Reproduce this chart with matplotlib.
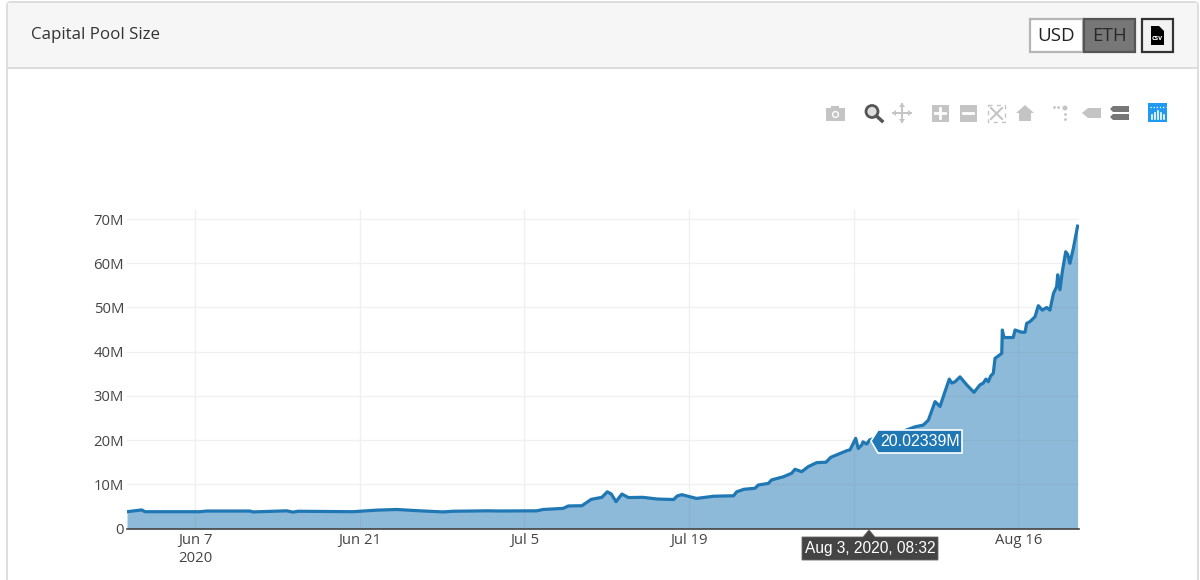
import matplotlib
matplotlib.use('Agg')
import matplotlib.pyplot as plt
import numpy as np
import pandas as pd
from matplotlib.patches import Rectangle, Polygon, Circle, FancyBboxPatch

plt.rcParams['font.family'] = ['Open Sans', 'DejaVu Sans']

# days relative to Jun 7 2020
days = [-5.78, -4.53, -4.25, 0.43, 0.99, 4.68, 4.93, 7.8, 8.33, 8.76, 13.44, 15.45, 17.15,
        19.13, 21.09, 21.94, 24.8, 25.94,
        29.06, 29.6, 31.3, 31.75, 32.9, 33.7, 34.6, 35.06, 35.4, 35.8, 36.3, 36.85,
        38.1, 39.3, 40.7, 41.0, 41.4, 42.65, 44.1, 45.8,
        46.06, 46.68, 47.62, 47.9, 48.75, 49.04, 50.03, 50.74, 51.02, 51.59, 52.15,
        52.87, 53.66, 54.06, 55.42, 55.7, 55.98, 56.18, 56.4, 56.7, 56.8, 57.12,
        57.36, 57.54, 59.1, 61.22, 61.93, 62.36, 62.93, 63.35, 63.78, 64.14, 64.35,
        64.63, 65.05, 65.62, 66.24, 66.75, 67.03, 67.26, 67.46, 67.66, 67.88, 68.03,
        68.6, 68.65, 68.79, 69.58, 69.73, 70.3, 70.58, 70.72, 71.0, 71.43, 71.71,
        72.05, 72.42, 72.7, 73.0, 73.27, 73.36, 73.55, 73.75, 74.04, 74.21, 74.4,
        74.69, 75.05]
pool_m = [3.8, 4.2, 3.8, 3.8, 3.95, 3.95, 3.75, 4.0, 3.7, 3.9, 3.8, 4.15, 4.3,
          4.0, 3.75, 3.9, 4.0, 3.96,
          4.0, 4.3, 4.55, 5.1, 5.15, 6.6, 7.05, 8.3, 7.8, 6.07, 7.8, 7.0,
          7.05, 6.67, 6.55, 7.35, 7.65, 6.8, 7.3, 7.4,
          8.3, 8.87, 9.1, 9.84, 10.2, 11.0, 11.7, 12.5, 13.4, 12.85, 14.0,
          14.9, 15.0, 16.1, 17.6, 17.8, 19.3, 20.4, 18.1, 18.9, 19.6, 19.1,
          20.02, 20.2, 20.9, 23.0, 23.4, 24.5, 28.7, 27.6, 31.0, 33.8, 32.9,
          33.2, 34.3, 32.5, 30.8, 32.5, 32.9, 33.8, 33.2, 34.5, 35.1, 38.5,
          39.6, 44.9, 43.2, 43.2, 44.9, 44.4, 44.4, 46.4, 46.8, 47.9, 50.4,
          49.4, 50.0, 49.4, 53.2, 54.7, 57.4, 54.0, 58.1, 62.6, 62.0, 60.0,
          63.4, 68.4]

y_ticks = [0, 10, 20, 30, 40, 50, 60, 70]
y_labels = ['0', '10M', '20M', '30M', '40M', '50M', '60M', '70M']
x_ticks = ['2020-06-07', '2020-06-21', '2020-07-05', '2020-07-19', '2020-08-02', '2020-08-16']
# the Aug 2 label sits behind the hover box in the original
x_labels = ['Jun 7\n2020', 'Jun 21', 'Jul 5', 'Jul 19', '', 'Aug 16']

base = pd.Timestamp('2020-06-07')
time = base + pd.to_timedelta(days, unit='D')

fig = plt.figure(figsize=(12, 5.8), dpi=100, facecolor='white')
W, H = 1200, 580

# chart
ax = fig.add_axes([127 / W, (H - 528.5) / H, 952 / W, 318.5 / H], zorder=2)
ax.patch.set_alpha(0)
ax.fill_between(time, 0, pool_m, color='#1f77b4', alpha=0.5, lw=0, zorder=3)
ax.plot(time, pool_m, color='#1f77b4', lw=2.3, zorder=4, solid_joinstyle='round')
ax.set_xlim(base + pd.Timedelta(days=-5.78), base + pd.Timedelta(days=75.17))
ax.set_ylim(0, 72.05)
ax.set_yticks(y_ticks, y_labels)
ax.set_xticks(pd.to_datetime(x_ticks), x_labels, ha='center', linespacing=1.3)
ax.grid(True, color='#f0f0f0', lw=1.0, zorder=1)
ax.tick_params(length=0, labelsize=10.7, labelcolor='#444444')
ax.tick_params(axis='y', pad=2)
ax.tick_params(axis='x', pad=3)
for side in ['top', 'right', 'left']:
    ax.spines[side].set_visible(False)
ax.spines['bottom'].set_color('#444444')
ax.spines['bottom'].set_linewidth(1.2)
ax.spines['bottom'].set_zorder(5)

# page furniture, in pixel coordinates
bg = fig.add_axes([0, 0, 1, 1], zorder=1)
bg.set_xlim(0, W)
bg.set_ylim(H, 0)
bg.axis('off')
bg.add_patch(FancyBboxPatch((7, 2), 1191, 640, boxstyle='round,pad=0,rounding_size=4',
                            fc='white', ec='#dddddd', lw=1.4))
bg.add_patch(Rectangle((8, 3), 1189, 64, fc='#f6f6f6', ec='none'))
bg.plot([7, 1198], [67.5, 67.5], color='#dddddd', lw=1.4)
bg.text(31, 33, 'Capital Pool Size', fontsize=12.2, color='#333333', va='center_baseline')

ov = fig.add_axes([0, 0, 1, 1], zorder=3)
ov.set_xlim(0, W)
ov.set_ylim(H, 0)
ov.axis('off')

# buttons
ov.add_patch(Rectangle((1030, 19), 53, 33, fc='white', ec='#b5b5b5', lw=1.6))
ov.text(1056, 36, 'USD', fontsize=13.5, color='#222222', ha='center', va='center')
ov.add_patch(Rectangle((1084, 19), 51, 33, fc='#777777', ec='#555555', lw=1.6))
ov.text(1109.5, 36, 'ETH', fontsize=13.5, color='#2a2a2a', ha='center', va='center')
ov.add_patch(Rectangle((1142, 19), 31, 33, fc='#f2f2f2', ec='#333333', lw=1.6))
ov.add_patch(Polygon([(1151, 26), (1159, 26), (1164, 31), (1164, 45), (1151, 45)], fc='black', ec='none'))
ov.text(1157.5, 39, 'csv', fontsize=5, color='white', ha='center', va='center', weight='bold')

# toolbar icons
grey = '#c4c4c4'
ov.add_patch(Rectangle((826, 108), 19, 13, fc=grey, ec='none'))
ov.add_patch(Rectangle((831, 105.5), 8, 3, fc=grey, ec='none'))
ov.add_patch(Circle((835.5, 114.5), 3.6, fc='white', ec='none'))
ov.add_patch(Circle((835.5, 114.5), 2.2, fc=grey, ec='none'))
ov.add_patch(Circle((872, 111.5), 6, fc='#dddddd', ec='#555555', lw=2))
ov.plot([876.5, 882], [116, 121], color='#555555', lw=2.5)
ov.plot([893, 911], [113, 113], color=grey, lw=1.4)
ov.plot([902, 902], [104, 122], color=grey, lw=1.4)
for tri in [[(902, 103), (899, 107), (905, 107)], [(902, 123), (899, 119), (905, 119)],
            [(892, 113), (896, 110), (896, 116)], [(912, 113), (908, 110), (908, 116)]]:
    ov.add_patch(Polygon(tri, fc=grey, ec='none'))
for cx, sign in [(940, True), (968, False)]:
    ov.add_patch(Rectangle((cx - 8.5, 104.5), 17, 17, fc=grey, ec='none'))
    ov.plot([cx - 5, cx + 5], [113, 113], color='white', lw=2)
    if sign:
        ov.plot([cx, cx], [108, 118], color='white', lw=2)
ov.add_patch(Rectangle((988, 104.5), 17, 17, fc='none', ec=grey, lw=1, ls=(0, (3, 3))))
ov.plot([991, 1002], [108, 119], color=grey, lw=1.5)
ov.plot([1002, 991], [108, 119], color=grey, lw=1.5)
ov.add_patch(Polygon([(1016, 113), (1025, 105), (1034, 113), (1031, 113), (1031, 121), (1019, 121), (1019, 113)],
                     fc=grey, ec='none'))
ov.add_patch(Circle((1065, 108), 2.5, fc=grey, ec='none'))
ov.scatter([1054, 1058, 1065, 1065], [107, 107, 114, 119], s=4, color=grey, lw=0)
ov.add_patch(Polygon([(1082, 113), (1088, 108), (1101, 108), (1101, 118), (1088, 118)], fc=grey, ec='none'))
ov.add_patch(Polygon([(1113, 106), (1129, 106), (1129, 112), (1113, 112), (1110, 109)], fc='#777777', ec='none'))
ov.add_patch(Polygon([(1113, 114), (1129, 114), (1129, 120), (1113, 120), (1110, 117)], fc='#777777', ec='none'))
ov.add_patch(Rectangle((1148, 103), 19, 19, fc='#1e9bf0', ec='none'))
for bx, by in [(1151.5, 115), (1155, 113), (1158, 111), (1161, 113), (1164, 115)]:
    ov.plot([bx, bx], [by, 119], color='white', lw=1.2)
ov.plot([1150, 1166], [107, 107], color='white', lw=0.9, ls=(0, (1, 1.5)))

# hover labels
ov.add_patch(Polygon([(871, 441), (878, 430), (962, 430), (962, 453), (878, 453)],
                     fc='#1f77b4', ec='white', lw=1.2))
ov.text(920, 441.5, '20.02339M', fontsize=11.5, color='white', ha='center', va='center',
        family='Liberation Sans')
ov.add_patch(Polygon([(869, 530), (875, 537), (938, 537), (938, 560), (802, 560), (802, 537), (863, 537)],
                     fc='#444444', ec='#666666', lw=0.6))
ov.text(870, 549, 'Aug 3, 2020, 08:32', fontsize=11.2, color='white', ha='center', va='center',
        family='Liberation Sans')

fig.savefig('out.png', dpi=100)
